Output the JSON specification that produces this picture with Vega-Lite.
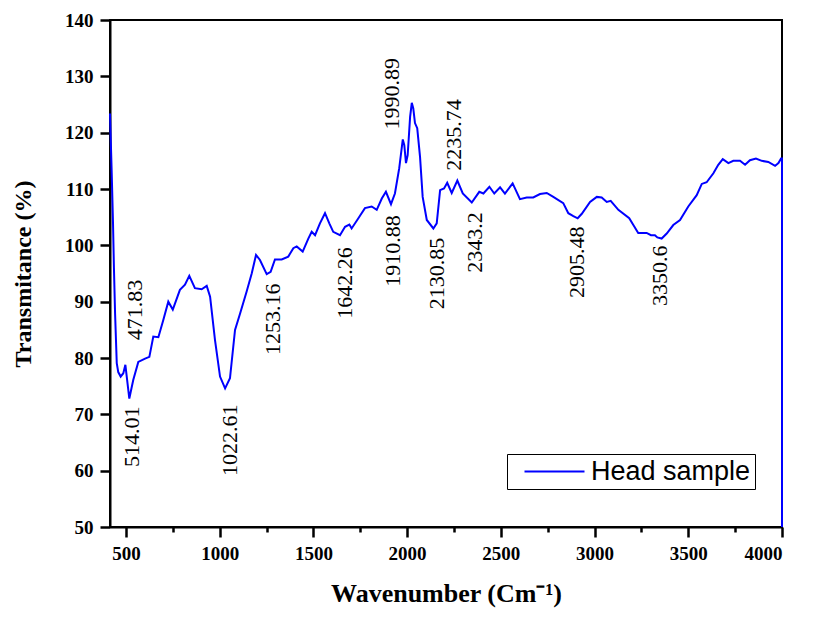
{
  "$schema": "https://vega.github.io/schema/vega-lite/v6.json",
  "width": 672,
  "height": 507,
  "autosize": {"type": "none"},
  "padding": {"left": 110, "top": 20, "right": 32, "bottom": 91},
  "background": "white",
  "datasets": {
    "curve": [
      {"w": 415, "t": 123.4}, {"w": 424, "t": 113}, {"w": 431, "t": 104}, {"w": 436, "t": 96},
      {"w": 442, "t": 88}, {"w": 451, "t": 79.1}, {"w": 459, "t": 77.5}, {"w": 472, "t": 76.7},
      {"w": 486, "t": 77.3}, {"w": 497, "t": 78.8}, {"w": 518, "t": 72.8}, {"w": 539, "t": 76.1},
      {"w": 566, "t": 79.3}, {"w": 602, "t": 79.9}, {"w": 625, "t": 80.2}, {"w": 646, "t": 83.8},
      {"w": 673, "t": 83.7}, {"w": 699, "t": 86.7}, {"w": 726, "t": 90.0}, {"w": 750, "t": 88.6},
      {"w": 788, "t": 92.1}, {"w": 815, "t": 93}, {"w": 838, "t": 94.6}, {"w": 868, "t": 92.4},
      {"w": 904, "t": 92.2}, {"w": 931, "t": 92.8}, {"w": 949, "t": 90.9}, {"w": 975, "t": 83.2},
      {"w": 1002, "t": 76.7}, {"w": 1029, "t": 74.6}, {"w": 1055, "t": 76.4}, {"w": 1082, "t": 85},
      {"w": 1109, "t": 87.9}, {"w": 1144, "t": 91.8}, {"w": 1171, "t": 95}, {"w": 1194, "t": 98.3},
      {"w": 1215, "t": 97.4}, {"w": 1251, "t": 94.9}, {"w": 1272, "t": 95.3}, {"w": 1295, "t": 97.5},
      {"w": 1331, "t": 97.5}, {"w": 1366, "t": 98}, {"w": 1393, "t": 99.5}, {"w": 1411, "t": 99.8},
      {"w": 1443, "t": 98.9}, {"w": 1473, "t": 101.2}, {"w": 1491, "t": 102.4}, {"w": 1509, "t": 101.8},
      {"w": 1535, "t": 103.9}, {"w": 1562, "t": 105.7}, {"w": 1585, "t": 103.9}, {"w": 1606, "t": 102.4},
      {"w": 1642, "t": 101.8}, {"w": 1669, "t": 103.3}, {"w": 1692, "t": 103.7}, {"w": 1704, "t": 103},
      {"w": 1740, "t": 104.8}, {"w": 1775, "t": 106.6}, {"w": 1811, "t": 106.9}, {"w": 1838, "t": 106.3},
      {"w": 1865, "t": 108.3}, {"w": 1887, "t": 109.5}, {"w": 1914, "t": 107.3}, {"w": 1935, "t": 109.2},
      {"w": 1958, "t": 113.7}, {"w": 1977, "t": 118.8}, {"w": 1985, "t": 117.8}, {"w": 1994, "t": 114.6},
      {"w": 2003, "t": 116}, {"w": 2016, "t": 122.8}, {"w": 2025, "t": 125.3}, {"w": 2033, "t": 124.3},
      {"w": 2042, "t": 121.7}, {"w": 2054, "t": 120.8}, {"w": 2069, "t": 115.7}, {"w": 2083, "t": 108.6},
      {"w": 2105, "t": 104.5}, {"w": 2140, "t": 103}, {"w": 2158, "t": 103.9}, {"w": 2176, "t": 109.8},
      {"w": 2197, "t": 110.1}, {"w": 2214, "t": 111.1}, {"w": 2238, "t": 109.3}, {"w": 2268, "t": 111.5},
      {"w": 2297, "t": 109.2}, {"w": 2345, "t": 107.6}, {"w": 2385, "t": 109.5}, {"w": 2407, "t": 109.2},
      {"w": 2439, "t": 110.4}, {"w": 2465, "t": 109.2}, {"w": 2496, "t": 110.3}, {"w": 2522, "t": 109.2},
      {"w": 2563, "t": 111}, {"w": 2602, "t": 108.2}, {"w": 2638, "t": 108.5}, {"w": 2673, "t": 108.5},
      {"w": 2709, "t": 109.1}, {"w": 2745, "t": 109.3}, {"w": 2780, "t": 108.6}, {"w": 2833, "t": 107.5},
      {"w": 2860, "t": 105.7}, {"w": 2887, "t": 105.2}, {"w": 2910, "t": 104.8}, {"w": 2932, "t": 105.6},
      {"w": 2976, "t": 107.7}, {"w": 3012, "t": 108.6}, {"w": 3038, "t": 108.5}, {"w": 3065, "t": 107.7},
      {"w": 3086, "t": 107.9}, {"w": 3127, "t": 106.3}, {"w": 3185, "t": 104.8}, {"w": 3207, "t": 103.6},
      {"w": 3233, "t": 102.2}, {"w": 3278, "t": 102.2}, {"w": 3301, "t": 101.8}, {"w": 3322, "t": 101.8},
      {"w": 3335, "t": 101.4}, {"w": 3358, "t": 101.2}, {"w": 3385, "t": 102.1}, {"w": 3420, "t": 103.6},
      {"w": 3456, "t": 104.5}, {"w": 3500, "t": 106.9}, {"w": 3545, "t": 108.9}, {"w": 3572, "t": 110.9},
      {"w": 3598, "t": 111.2}, {"w": 3634, "t": 112.8}, {"w": 3660, "t": 114.3}, {"w": 3684, "t": 115.3},
      {"w": 3714, "t": 114.6}, {"w": 3740, "t": 115}, {"w": 3776, "t": 115}, {"w": 3803, "t": 114.3},
      {"w": 3829, "t": 115.1}, {"w": 3861, "t": 115.4}, {"w": 3892, "t": 115}, {"w": 3927, "t": 114.8},
      {"w": 3963, "t": 114.1}, {"w": 3981, "t": 114.6}, {"w": 3995, "t": 115.4}, {"w": 4000, "t": 115.4},
      {"w": 4000, "t": 50}
    ],
    "peaks": [
      {"w": 548, "t": 88.5, "label": "471.83"},
      {"w": 531, "t": 66.0, "label": "514.01"},
      {"w": 1055, "t": 65.4, "label": "1022.61"},
      {"w": 1286, "t": 86.9, "label": "1253.16"},
      {"w": 1669, "t": 93.3, "label": "1642.26"},
      {"w": 1926, "t": 99.0, "label": "1910.88"},
      {"w": 1918, "t": 126.9, "label": "1990.89"},
      {"w": 2158, "t": 95.0, "label": "2130.85"},
      {"w": 2250, "t": 119.6, "label": "2235.74"},
      {"w": 2362, "t": 100.5, "label": "2343.2"},
      {"w": 2905, "t": 97.0, "label": "2905.48"},
      {"w": 3349, "t": 94.6, "label": "3350.6"}
    ]
  },
  "layer": [
    {
      "data": {"name": "curve"},
      "mark": {"type": "line", "strokeWidth": 2},
      "encoding": {
        "x": {
          "field": "w", "type": "quantitative",
          "scale": {"domain": [415, 4000], "nice": false, "zero": false},
          "axis": {
            "orient": "bottom",
            "values": [500, 750, 1000, 1250, 1500, 1750, 2000, 2250, 2500, 2750, 3000, 3250, 3500, 3750, 4000],
            "labelExpr": "datum.value % 500 === 0 ? datum.value : ''",
            "ticks": true,
            "tickSize": {"expr": "datum.value % 500 === 0 ? 10 : 5"},
            "tickColor": "black",
            "tickOpacity": 1,
            "tickWidth": 2.5,
            "labelPadding": 7,
            "title": "Wavenumber (Cm⁻¹)",
            "titleFontSize": 26,
            "titleBaseline": "middle",
            "titleY": 66
          }
        },
        "y": {
          "field": "t", "type": "quantitative",
          "scale": {"domain": [50, 140], "nice": false, "zero": false},
          "axis": {
            "orient": "left",
            "values": [50, 55, 60, 65, 70, 75, 80, 85, 90, 95, 100, 105, 110, 115, 120, 125, 130, 135, 140],
            "labelExpr": "datum.value % 10 === 0 ? datum.value : ''",
            "ticks": true,
            "tickSize": {"expr": "datum.value % 10 === 0 ? 10 : 5"},
            "tickColor": "black",
            "tickOpacity": 1,
            "tickWidth": 2.5,
            "labelPadding": 7,
            "title": "Transmitance (%)",
            "titleFontSize": 24,
            "titleBaseline": "middle",
            "titleX": -87
          }
        },
        "color": {
          "datum": "Head sample",
          "scale": {"range": ["#0000ff"]},
          "legend": {
            "orient": "none",
            "legendX": 397,
            "legendY": 434,
            "title": null,
            "strokeColor": "black",
            "padding": 4,
            "labelFont": "Liberation Sans",
            "labelFontSize": 27,
            "labelFontWeight": "normal",
            "labelColor": "black",
            "symbolType": "M0,0H6",
            "symbolSize": 400,
            "symbolStrokeWidth": 2,
            "labelOffset": 53
          }
        },
        "order": {"value": null}
      }
    },
    {
      "data": {"name": "peaks"},
      "mark": {"type": "text", "angle": 270, "align": "center", "baseline": "middle", "font": "Liberation Serif", "fontSize": 22, "color": "black"},
      "encoding": {
        "x": {"field": "w", "type": "quantitative"},
        "y": {"field": "t", "type": "quantitative"},
        "text": {"field": "label"}
      }
    }
  ],
  "config": {
    "font": "Liberation Serif",
    "view": {"stroke": "black", "strokeWidth": 2},
    "axis": {
      "grid": false,
      "ticks": true,
      "domainColor": "black",
      "domainWidth": 2,
      "labelFont": "Liberation Serif",
      "labelFontSize": 19,
      "labelFontWeight": "bold",
      "labelColor": "black",
      "titleFont": "Liberation Serif",
      "titleFontWeight": "bold",
      "titleColor": "black"
    }
  }
}
